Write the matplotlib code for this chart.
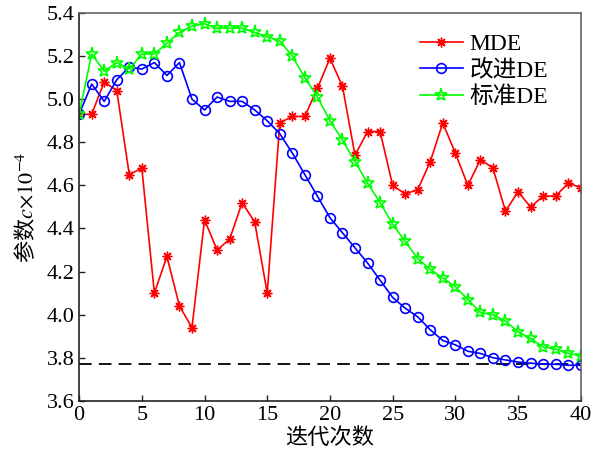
import numpy as np
import matplotlib
matplotlib.use('Agg')
from matplotlib import pyplot as plt

# iterations and parameter c (x1e-4) for each method
iters = np.arange(0, 41)
mde = [4.93, 4.93, 5.08, 5.04, 4.65, 4.68, 4.10, 4.27, 4.04, 3.94,
       4.44, 4.30, 4.35, 4.52, 4.43, 4.10, 4.89, 4.92, 4.92, 5.05,
       5.19, 5.06, 4.74, 4.85, 4.85, 4.60, 4.56, 4.58, 4.71, 4.89,
       4.75, 4.60, 4.72, 4.68, 4.48, 4.57, 4.50, 4.55, 4.55, 4.61,
       4.59]
improved_de = [4.93, 5.07, 4.99, 5.09, 5.15, 5.14, 5.17, 5.11, 5.17, 5.00,
               4.95, 5.01, 4.99, 4.99, 4.95, 4.90, 4.84, 4.75, 4.65, 4.55,
               4.45, 4.38, 4.31, 4.24, 4.16, 4.08, 4.03, 3.99, 3.93, 3.88,
               3.86, 3.83, 3.82, 3.80, 3.79, 3.78, 3.775, 3.77, 3.77, 3.765,
               3.765]
standard_de = [4.93, 5.21, 5.13, 5.17, 5.14, 5.21, 5.21, 5.26, 5.31, 5.34,
               5.35, 5.33, 5.33, 5.33, 5.31, 5.29, 5.27, 5.20, 5.10, 5.01,
               4.90, 4.81, 4.71, 4.61, 4.52, 4.42, 4.34, 4.26, 4.21, 4.17,
               4.13, 4.07, 4.01, 4.00, 3.97, 3.92, 3.89, 3.85, 3.84, 3.82,
               3.81]
optimum = 3.77
labels = ['MDE', '改进DE', '标准DE']

plt.rcParams['font.family'] = ['Liberation Serif', 'Noto Sans CJK SC']
plt.rcParams['mathtext.fontset'] = 'stix'

fig = plt.figure(figsize=(5.95, 4.65), dpi=100)
ax = fig.add_axes([0.133, 0.138, 0.843, 0.834])

ax.plot([iters[0], iters[-1]], [optimum, optimum], color='black', lw=1.3,
        linestyle=(0, (7, 4)))
ax.plot(iters, mde, color='red', lw=1.2, marker=(8, 2, 0), ms=7,
        mew=1.0, label=labels[0])
ax.plot(iters, improved_de, color='blue', lw=1.2, marker='o', ms=7,
        mfc='none', mew=1.2, label=labels[1])
ax.plot(iters, standard_de, color='#00ff00', lw=1.2, marker='*', ms=9.5,
        mfc='none', mew=1.2, label=labels[2])

ax.set_xlim(0, 40)
ax.set_ylim(3.6, 5.4)
ax.set_xticks(np.arange(0, 41, 5))
ax.set_yticks(np.arange(3.6, 5.41, 0.2))
ax.set_yticklabels(['%.1f' % v for v in np.arange(3.6, 5.41, 0.2)])
ax.tick_params(direction='in', labelsize=16, length=4, width=1,
               colors='#222222', labelcolor='black')
for s in ['left', 'bottom']:
    ax.spines[s].set_color('#222222')
for s in ['top', 'right']:
    ax.spines[s].set_color('#666666')
for s in ax.spines.values():
    s.set_linewidth(1.2)

ax.set_xlabel('迭代次数', fontsize=16, family='Noto Sans CJK SC', labelpad=1)
ax.set_ylabel('参数$c{\\times}10^{-4}$', fontsize=16, family='Noto Sans CJK SC',
              labelpad=6)

ax.legend(loc='upper right', bbox_to_anchor=(0.945, 0.96), frameon=False,
          fontsize=17, handlelength=1.8, labelspacing=0.2, handletextpad=0.3,
          borderpad=0.2, borderaxespad=0)

fig.savefig('out.png', dpi=100)
